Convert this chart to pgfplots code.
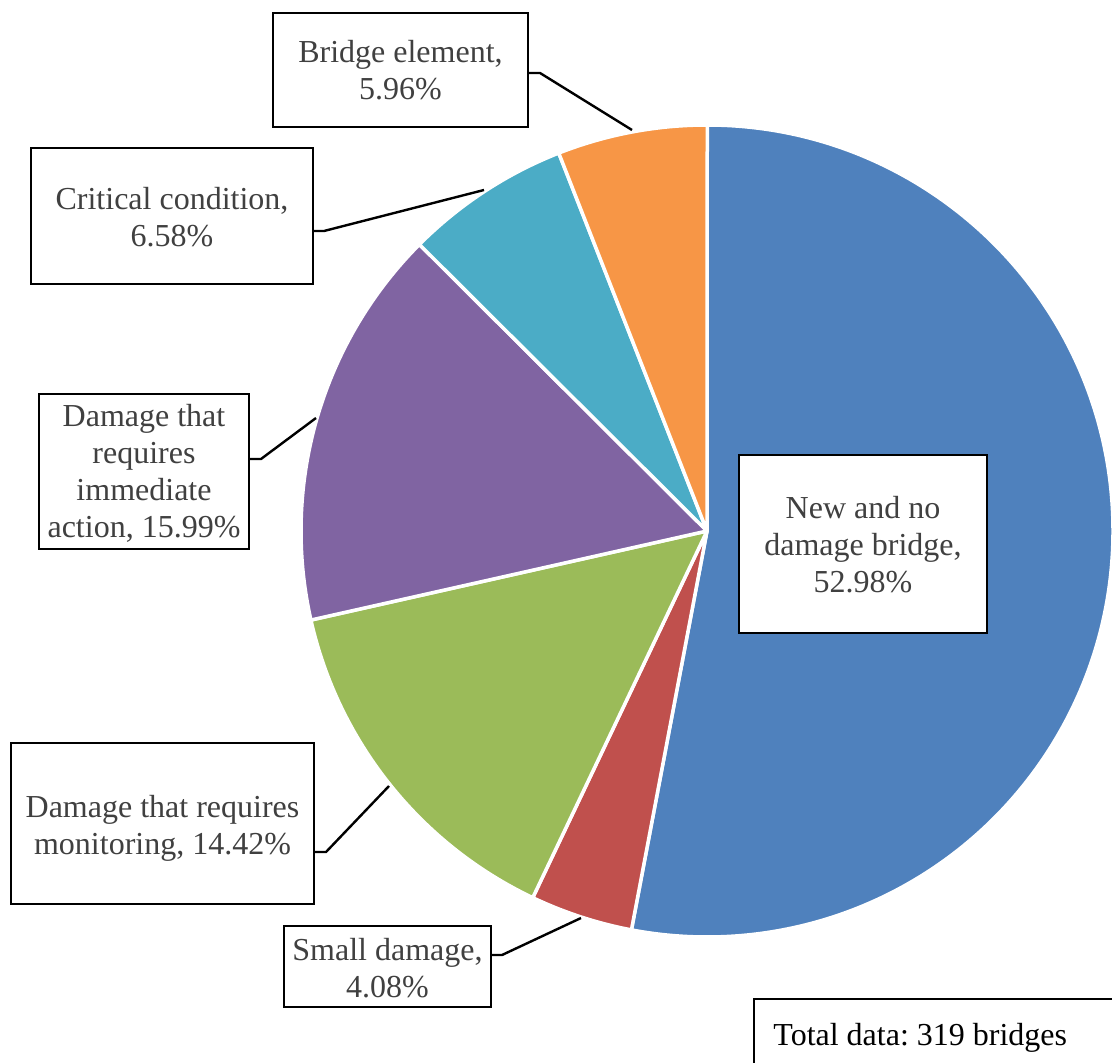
\documentclass[border=0pt]{standalone}
\usepackage{pgfplots}
\usepackage{pgfplotstable}
\pgfplotsset{compat=1.18}
\usepackage{fontspec}
\setmainfont{Liberation Serif}
\frenchspacing

\definecolor{sliceBlue}{HTML}{4F81BD}
\definecolor{sliceRed}{HTML}{C0504D}
\definecolor{sliceGreen}{HTML}{9BBB59}
\definecolor{slicePurple}{HTML}{8064A2}
\definecolor{sliceTeal}{HTML}{4BACC6}
\definecolor{sliceOrange}{HTML}{F79646}
\definecolor{labelgray}{HTML}{404040}

% Bridge condition shares (%), clockwise from 12 o'clock
\pgfplotstableread{
share colour
52.98 sliceBlue
4.08  sliceRed
14.42 sliceGreen
15.99 slicePurple
6.58  sliceTeal
5.96  sliceOrange
}\pietable

\newcommand{\lbl}{\fontsize{16}{18.5}\selectfont\frenchspacing}

\begin{document}
\begin{tikzpicture}
\begin{axis}[
  name=pie,
  x=0.5pt, y=0.5pt, scale only axis,
  xmin=0, xmax=1112, ymin=0, ymax=1063,
  y dir=reverse,
  hide axis, clip=false,
]
% pie wedges: centre (707,531), radius 406 units = 203pt
\pgfplotstablegetrowsof{\pietable}
\pgfmathtruncatemacro\lastrow{\pgfplotsretval-1}
\def\startangle{90}
\pgfplotsforeachungrouped \i in {0,...,\lastrow}{%
  \pgfplotstablegetelem{\i}{share}\of\pietable \let\share\pgfplotsretval
  \pgfplotstablegetelem{\i}{colour}\of\pietable \let\clr\pgfplotsretval
  \pgfmathsetmacro\endangle{\startangle-3.6*\share}%
  \edef\wedge{\noexpand\fill[\clr, draw=white, line width=1.75pt, line join=round]
    (axis cs:707,531) -- ++(\startangle:203pt)
    arc[start angle=\startangle, end angle=\endangle, radius=203pt] -- cycle;}%
  \wedge
  \let\startangle\endangle
}

% leader lines
\tikzset{leader/.style={black, line width=1.2pt}}
\draw[leader] (axis cs:528,73) -- (axis cs:540,73) -- (axis cs:632,130);
\draw[leader] (axis cs:313,231) -- (axis cs:324,231) -- (axis cs:484,190);
\draw[leader] (axis cs:249,459) -- (axis cs:261,459) -- (axis cs:316,418);
\draw[leader] (axis cs:314,852) -- (axis cs:326,852) -- (axis cs:389,786);
\draw[leader] (axis cs:491,955) -- (axis cs:502,955) -- (axis cs:581,918);

% label boxes
\tikzset{lblbox/.style={draw=black, fill=white, line width=1pt}}
\tikzset{lbltxt/.style={anchor=base, inner sep=0pt, text=labelgray, font=\lbl}}
\draw[lblbox] (axis cs:273,13) rectangle (axis cs:528,127);
\node[lbltxt] at (axis cs:400.5,63) {Bridge element,};
\node[lbltxt] at (axis cs:400.5,100) {5.96\%};

\draw[lblbox] (axis cs:31,148) rectangle (axis cs:313,284);
\node[lbltxt] at (axis cs:172,210) {Critical condition,};
\node[lbltxt] at (axis cs:172,247) {6.58\%};

\draw[lblbox] (axis cs:39,394) rectangle (axis cs:249,549);
\node[lbltxt] at (axis cs:144,427) {Damage that};
\node[lbltxt] at (axis cs:144,464) {requires};
\node[lbltxt] at (axis cs:144,500.5) {immediate};
\node[lbltxt] at (axis cs:144,537) {action, 15.99\%};

\draw[lblbox] (axis cs:11,743) rectangle (axis cs:314,904);
\node[lbltxt] at (axis cs:162.5,817) {Damage that requires};
\node[lbltxt] at (axis cs:162.5,854) {monitoring, 14.42\%};

\draw[lblbox] (axis cs:284,926) rectangle (axis cs:491,1007);
\node[lbltxt] at (axis cs:387.5,960) {Small damage,};
\node[lbltxt] at (axis cs:387.5,997) {4.08\%};

\draw[lblbox] (axis cs:739,455) rectangle (axis cs:987,633);
\node[lbltxt] at (axis cs:863,518) {New and no};
\node[lbltxt] at (axis cs:863,555) {damage bridge,};
\node[lbltxt] at (axis cs:863,592) {52.98\%};

% total count note
\draw[lblbox] (axis cs:754,999) rectangle (axis cs:1140,1090);
\node[anchor=base west, inner sep=0pt, text=black, font=\lbl] at (axis cs:773,1045) {Total data: 319 bridges};
\end{axis}
\pgfresetboundingbox
\path (pie.south west) rectangle (pie.north east);
\end{tikzpicture}
\end{document}
